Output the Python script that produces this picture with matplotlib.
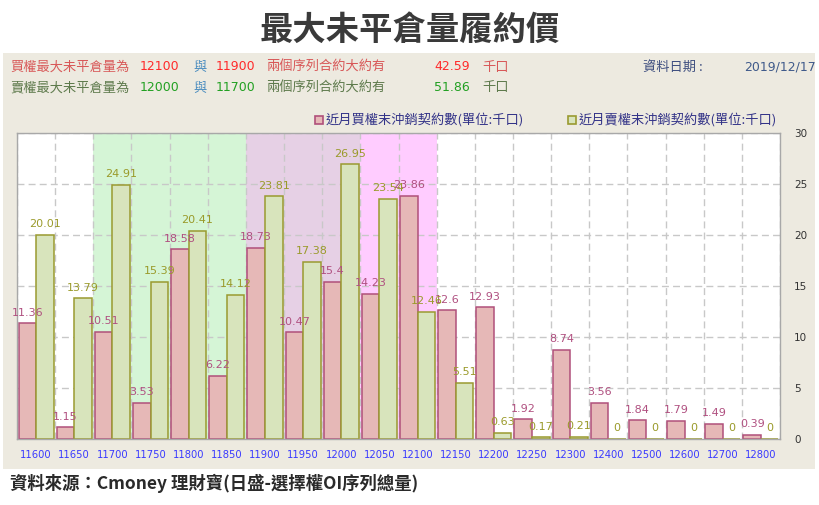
import matplotlib
matplotlib.use("Agg")
import matplotlib.pyplot as plt
from matplotlib.patches import Rectangle
import numpy as np

strikes = ["11600", "11650", "11700", "11750", "11800", "11850", "11900", "11950", "12000", "12050",
           "12100", "12150", "12200", "12250", "12300", "12400", "12500", "12600", "12700", "12800"]
calls = [11.36, 1.15, 10.51, 3.53, 18.58, 6.22, 18.73, 10.47, 15.4, 14.23,
         23.86, 12.6, 12.93, 1.92, 8.74, 3.56, 1.84, 1.79, 1.49, 0.39]
puts = [20.01, 13.79, 24.91, 15.39, 20.41, 14.12, 23.81, 17.38, 26.95, 23.54,
        12.46, 5.51, 0.63, 0.17, 0.21, 0, 0, 0, 0, 0]
yticks = [0, 5, 10, 15, 20, 25, 30]

title = "最大未平倉量履約價"
source = "資料來源：Cmoney 理財寶(日盛-選擇權OI序列總量)"
legend_call = "近月買權末沖銷契約數(單位:千口)"
legend_put = "近月賣權末沖銷契約數(單位:千口)"

CJK = ["Noto Sans CJK TC", "DejaVu Sans"]
NUM = ["DejaVu Sans", "Noto Sans CJK TC"]

W, H = 820, 505
fig = plt.figure(figsize=(W / 100, H / 100), dpi=100)
fig.patch.set_facecolor("white")

def fx(px):
    return px / W

def fy(py):
    return 1 - py / H

# beige panel
fig.patches.append(Rectangle((fx(3), fy(469)), fx(815) - fx(3), fy(53) - fy(469),
                             transform=fig.transFigure, facecolor="#EDEAE0",
                             edgecolor="none", zorder=-1))

fig.text(0.5, fy(30), title, ha="center", va="center", fontsize=24,
         fontweight="bold", color="#3A3A3A", family=CJK)
fig.text(fx(10), fy(483), source, ha="left", va="center", fontsize=12.5,
         fontweight="bold", color="#2A2A2A", family=CJK)

# header rows
rows = [
    dict(y=67, label="買權最大未平倉量為", lc="#D85858", n1="12100", n2="11900",
         nc="#FF2A2A", val="42.59"),
    dict(y=88, label="賣權最大未平倉量為", lc="#5E7A4C", n1="12000", n2="11700",
         nc="#22A022", val="51.86"),
]
for r in rows:
    yy = fy(r["y"])
    fig.text(fx(10), yy, r["label"], ha="left", va="center", fontsize=9.5, color=r["lc"], family=CJK)
    fig.text(fx(140), yy, r["n1"], ha="left", va="center", fontsize=9, color=r["nc"], family=NUM)
    fig.text(fx(193), yy, "與", ha="left", va="center", fontsize=9.5, color="#4A8CBF", family=CJK)
    fig.text(fx(216), yy, r["n2"], ha="left", va="center", fontsize=9, color=r["nc"], family=NUM)
    fig.text(fx(266), yy, "兩個序列合約大約有", ha="left", va="center", fontsize=9.5, color=r["lc"], family=CJK)
    fig.text(fx(470), yy, r["val"], ha="right", va="center", fontsize=9, color=r["nc"], family=NUM)
    fig.text(fx(482), yy, "千口", ha="left", va="center", fontsize=9.5, color=r["lc"], family=CJK)

fig.text(fx(643), fy(67), "資料日期 :", ha="left", va="center", fontsize=9.5, color="#3F4F80", family=CJK)
fig.text(fx(816), fy(67), "2019/12/17", ha="right", va="center", fontsize=9, color="#3F5A8A", family=NUM)

# legend
for lx, txt, fc, ec in [(315, legend_call, "#E6B8B7", "#B0507A"),
                         (568, legend_put, "#D8E4BC", "#9A9A30")]:
    fig.patches.append(Rectangle((fx(lx), fy(124)), fx(8), fy(116) - fy(124),
                                 transform=fig.transFigure, facecolor=fc, edgecolor=ec,
                                 linewidth=1.2, zorder=3))
    fig.text(fx(lx + 11), fy(120), txt, ha="left", va="center", fontsize=9.5,
             color="#333388", family=CJK)

# main axes
ax = fig.add_axes([fx(17), fy(439), fx(780) - fx(17), fy(133) - fy(439)])
ax.set_zorder(2)
ax.set_facecolor("white")
x = np.arange(len(strikes))
bw = 0.46

ax.axvspan(1.5, 5.5, color="#D5F5D6", zorder=0.1, linewidth=0)
ax.axvspan(5.5, 8.5, color="#E6D0E5", zorder=0.1, linewidth=0)
ax.axvspan(8.5, 10.5, color="#FFCCFF", zorder=0.1, linewidth=0)

ax.bar(x - bw / 2, calls, width=bw, color="#E6B8B7", edgecolor="#B0507A", linewidth=1.1, zorder=2)
ax.bar(x + bw / 2, puts, width=bw, color="#D8E4BC", edgecolor="#9A9A30", linewidth=1.1, zorder=2)

for xi, v in zip(x, calls):
    ax.annotate(f"{v:g}", (xi - bw / 2, v), xytext=(0, 4), textcoords="offset points",
                ha="center", va="bottom", fontsize=8, color="#B05080", family=NUM, zorder=3)
for xi, v in zip(x, puts):
    ax.annotate(f"{v:g}", (xi + bw / 2, v), xytext=(0, 4), textcoords="offset points",
                ha="center", va="bottom", fontsize=8, color="#9A9A2A", family=NUM, zorder=3)

ax.set_xlim(-0.5, len(strikes) - 0.5)
ax.set_ylim(0, 30)
ax.set_xticks(x)
ax.set_xticklabels(strikes)
ax.set_xticks(np.arange(-0.5, len(strikes), 1), minor=True)
ax.set_yticks(yticks)
ax.yaxis.tick_right()
ax.tick_params(axis="x", which="both", length=0, pad=8, labelsize=7.2, labelcolor="#3A3AFF")
ax.tick_params(axis="y", length=0, pad=10, labelsize=7.5, labelcolor="#333333")
for lab in ax.get_xticklabels() + ax.get_yticklabels():
    lab.set_family(NUM)

ax.grid(True, axis="y", which="major", linestyle=(0, (5, 3)), color="#C8C8C8", linewidth=1, zorder=0.5)
ax.grid(True, axis="x", which="minor", linestyle=(0, (5, 3)), color="#C8C8C8", linewidth=1, zorder=0.5)
ax.grid(False, axis="x", which="major")
ax.set_axisbelow(True)
for s in ax.spines.values():
    s.set_color("#A8A8A8")
    s.set_linewidth(1)

fig.savefig("out.png", dpi=100)
